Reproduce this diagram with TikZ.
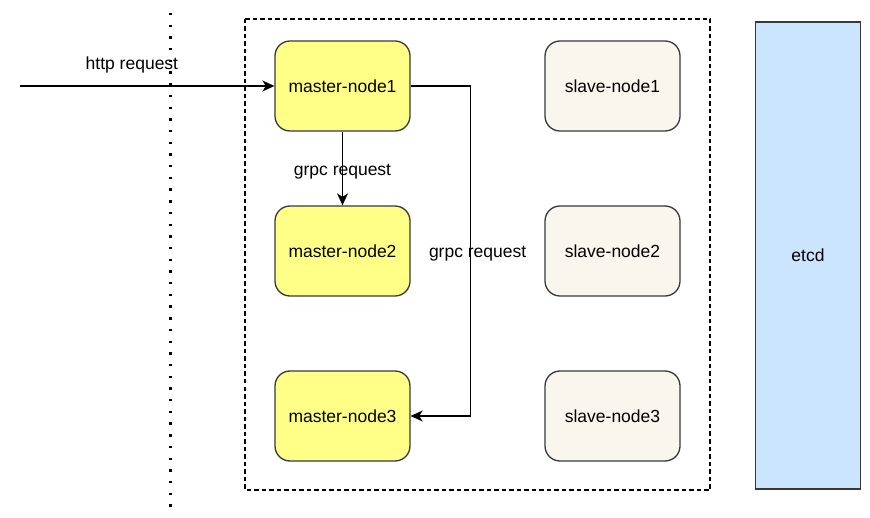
\documentclass[tikz,border=0pt]{standalone}
\usepackage{fontspec}
\setmainfont{Liberation Sans}
\usetikzlibrary{arrows.meta,positioning}
\definecolor{master}{HTML}{FFFF88}
\definecolor{slave}{HTML}{F9F7ED}
\definecolor{etcdblue}{HTML}{CCE5FF}
\definecolor{edge}{HTML}{36393D}

\begin{document}
\begin{tikzpicture}[x=1pt, y=-1pt,
    every node/.style={font=\fontsize{17.5}{21}\selectfont},
    box/.style={draw=edge, line width=1.3pt, rounded corners=15pt,
      minimum width=135pt, minimum height=90pt, inner sep=0pt},
    masterbox/.style={box, fill=master},
    slavebox/.style={box, fill=slave},
    link/.style={line width=1.4pt, -{Stealth[length=12pt, width=11pt, inset=3.5pt]}},
    lbl/.style={inner sep=0pt}]

  \useasboundingbox (0,0) rectangle (870,518);

  % Cluster border
  \draw[line width=1.3pt, dash pattern=on 4.5pt off 3pt] (245,19) rectangle (710,490);

  % Client boundary
  \draw[line width=2.4pt, dash pattern=on 2.4pt off 9.3pt] (170.5,13) -- (170.5,508);

  % Master and slave nodes
  \def\rowgap{165}
  \foreach \i in {1,2,3} {
    \pgfmathsetmacro{\yc}{86 + (\i-1)*\rowgap}
    \node[masterbox] (m\i) at (342.5,\yc) {master-node\i};
    \node[slavebox] (s\i) at (612.5,\yc) {slave-node\i};
  }

  % etcd
  \node[draw=edge, line width=1.3pt, fill=etcdblue, minimum width=105pt,
    minimum height=467pt, inner sep=0pt] (etcd) at (808,255.5) {etcd};

  % Requests
  \coordinate (client) at (20,86);
  \draw[link] (client) -- (m1.west)
    node[lbl, pos=0.44, above=12pt] {http request};
  \draw[link] (m1.south) -- (m2.north)
    node[lbl, midway, yshift=-3pt] {grpc request};
  \draw[link] (m1.east) -| ++(60,0) |- (m3.east)
    node[lbl, pos=0.25, xshift=7pt, yshift=-3pt] {grpc request};

\end{tikzpicture}
\end{document}
